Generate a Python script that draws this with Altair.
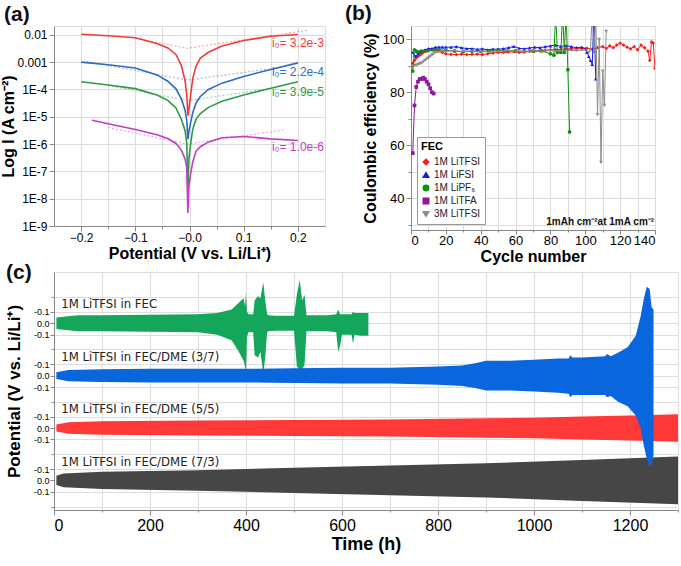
import altair as alt
import pandas as pd

FONT = "Liberation Sans"
NARROW = "Liberation Sans Narrow, DejaVu Sans Condensed, Liberation Sans"

# ---------------- (a) Tafel curves ----------------
a_series = ["1M LiTFSI", "1M LiFSI", "1M LiPF₆", "1M LiTFA"]
a_colors = ["#f03a3c", "#2e6bc6", "#2f9a4a", "#c23ec2"]

a_x = [-0.2, -0.15, -0.1, -0.06, -0.04, -0.025, -0.015, -0.008, -0.005, -0.003,
       -0.001, 0.002, 0.006, 0.012, 0.02, 0.035, 0.06, 0.1, 0.15, 0.2]
a_x_litfa = [-0.18, -0.15, -0.1, -0.06, -0.04, -0.025, -0.015, -0.008, -0.005, -0.003,
             -0.001, 0.002, 0.006, 0.012, 0.02, 0.035, 0.06, 0.1, 0.15, 0.2]
a_i_litfsi = [0.0105, 0.0092, 0.0078, 0.0048, 0.0033, 0.0019, 7.5e-4, 2e-4, 6e-5, 1.1e-5,
              2e-5, 6e-5, 2.5e-4, 7e-4, 1.4e-3, 2.3e-3, 3.9e-3, 6.2e-3, 8.8e-3, 0.0102]
a_i_lifsi = [1.0e-3, 8e-4, 6.1e-4, 3.4e-4, 2e-4, 1.05e-4, 4.5e-5, 1.7e-5, 7e-6, 1.5e-6,
             3e-6, 6e-6, 1.4e-5, 3.2e-5, 5.5e-5, 1e-4, 1.7e-4, 3e-4, 5.4e-4, 9.4e-4]
a_i_lipf6 = [1.9e-4, 1.45e-4, 1.07e-4, 6.2e-5, 4e-5, 2.1e-5, 8e-6, 3e-6, 1e-6, 2e-8,
             3e-7, 1e-6, 3.5e-6, 8e-6, 1.3e-5, 2.2e-5, 3.7e-5, 6.3e-5, 1.1e-4, 1.9e-4]
a_i_litfa = [7.4e-6, 5.5e-6, 3.4e-6, 2.2e-6, 1.6e-6, 1.05e-6, 6e-7, 2.8e-7, 1.3e-7, 3e-9,
             3e-8, 8e-8, 2.2e-7, 5.5e-7, 8e-7, 1.2e-6, 1.7e-6, 1.9e-6, 1.55e-6, 1.35e-6]

# Tafel fit (dotted) lines: left end, intersection, right end
a_fit_x_litfsi = [-0.1, -0.003, 0.22]
a_fit_i_litfsi = [0.0075, 0.0032, 0.015]
a_fit_x_lifsi = [-0.19, -0.003, 0.17]
a_fit_i_lifsi = [1.05e-3, 2.2e-4, 6.5e-4]
a_fit_x_lipf6 = [-0.15, -0.003, 0.16]
a_fit_i_lipf6 = [1.4e-4, 3.9e-5, 1.15e-4]
a_fit_x_litfa = [-0.15, -0.003, 0.175]
a_fit_i_litfa = [4e-6, 1.0e-6, 3.3e-6]

a_i0_labels = ["i₀= 3.2e-3", "i₀= 2.2e-4", "i₀= 3.9e-5", "i₀= 1.0e-6"]
a_i0_x = [0.152, 0.152, 0.152, 0.152]
a_i0_y = [5.1e-3, 4.4e-4, 7.9e-5, 7.9e-7]

# ---------------- (b) Coulombic efficiency ----------------
b_series = ["1M LiTFSI", "1M LiFSI", "1M LiPF₆", "1M LiTFA", "3M LiTFSI"]
b_colors = ["#ff1a1a", "#1a1aff", "#109010", "#8e1a96", "#8c8c8c"]
b_shapes = ["diamond", "triangle-up", "circle", "square", "triangle-down"]

b_cyc_litfsi = [1, 2, 3, 4, 5, 6, 7, 8, 9, 10, 12, 14, 16, 18, 20,
                23, 26, 29, 32, 35, 38, 41, 44, 47, 50, 53, 56, 59, 62, 65, 68, 71, 74, 77, 80,
                83, 86, 89, 92, 95, 98, 101, 104, 107, 110,
                112, 114, 116, 118, 120, 122, 124, 126, 128, 130, 132, 134, 136,
                137, 138, 139, 140]
b_ce_litfsi = [91, 92, 93, 93.5, 94, 94.5, 95, 95.5, 95.5, 96, 96, 96, 95.5, 95, 94.5,
               94.3, 94.2, 94.4, 94.2, 94.3, 94.4, 94.2, 94.5, 94.8, 95,
               95, 95.2, 95.3, 95, 95.2, 95.4, 95.5, 95.6, 95.8, 96,
               96, 96.2, 96.4, 96.3, 96.5, 96.4, 96.6, 96.2, 96.8, 97.2,
               96.5, 97.5, 96.8, 97.8, 98.5, 97.8, 97, 96.4, 97.2, 96, 97.8, 96.8, 95.5,
               92, 99, 98.5, 89]
b_cyc_lifsi = [1, 2, 3, 4, 5, 6, 8, 10, 12, 14, 16, 18, 20,
               23, 26, 29, 32, 35, 38, 41, 44, 47, 50, 53, 56, 59, 62, 65, 68, 71, 74,
               77, 80, 83, 86, 89, 92, 95, 98,
               100, 101, 102, 103, 104, 105, 106]
b_ce_lifsi = [95, 94, 93.5, 94.5, 95, 95.5, 96, 96.5, 96.5, 97, 97, 97, 97,
              97, 97.2, 96.8, 96.5, 96.5, 96.2, 96.4, 96, 96.3, 96.2,
              96.5, 96.8, 97.3, 96.6, 96.4, 96.7, 97, 96.8, 97.2, 97.5,
              97.8, 97.3, 97.6, 97.2, 96.8, 97,
              96.5, 95, 93.5, 92, 90.5, 110, 85]
b_cyc_lipf6 = [1, 2, 3, 4, 5, 6, 8, 10, 13, 16, 20,
               25, 30, 35, 40, 45, 50, 55, 60, 65, 70, 75, 80,
               82, 83, 84, 86, 87, 88, 89, 90, 91]
b_ce_lipf6 = [88, 96, 95.5, 95, 95.2, 95.5, 95.6, 95.8, 96, 96, 95.8,
              95.5, 95.3, 95.5, 95.4, 95.6, 96, 95.5, 95.6, 95.4, 95.5, 95.6, 94.5,
              94, 110, 95, 95, 110, 95, 110, 88.5, 65]
b_cyc_litfa = [1, 2, 3, 4, 5, 6, 7, 8, 9, 10, 11, 12, 13]
b_ce_litfa = [57, 75, 82, 84, 85, 85, 85.5, 85, 84, 83, 81.5, 80, 79.5]
b_cyc_3m = [1, 2, 3, 4, 5, 6, 7, 8, 9, 10, 11, 12, 13, 14, 15, 17, 20,
            25, 30, 35, 40, 45, 50, 55, 60, 65, 70, 75, 80, 85, 90, 95, 100,
            102, 103, 104, 105, 106, 107, 108, 109, 110, 111, 112]
b_ce_3m = [89.5, 90, 90.2, 90.5, 90.8, 91, 91.5, 92, 92.5, 93, 93.5, 94, 94.5, 95, 95.2,
           95.5, 95.5,
           95.6, 95.4, 95.5, 95.3, 95.5, 95.4, 95.6, 95.5, 95.4, 95.6, 95.5, 95.7, 95.6,
           95.8, 95.7, 96,
           95, 96, 110, 95, 110, 71.5, 100, 53.5, 88, 75, 103]

b_note = ["1mAh cm⁻²at 1mA cm⁻²"]
b_note_x = [139.5]
b_note_y = [30]

# ---------------- (c) Voltage profiles (envelopes) ----------------
c_series = ["1M LiTFSI in FEC", "1M LiTFSI in FEC/DME (3/7)",
            "1M LiTFSI in FEC/DME (5/5)", "1M LiTFSI in FEC/DME (7/3)"]
c_colors = ["#14a65b", "#0a66dd", "#ff3838", "#464646"]
OFFSET = 0.46  # vertical spacing of stacked traces (V)

c_t_fec = [5, 50, 100, 200, 300, 340, 370, 385, 395, 398, 400, 402, 405, 415, 418,
           425, 430, 436, 440, 444, 447, 460, 480, 500, 506, 512, 517, 522, 526, 540,
           570, 588, 592, 596, 600, 610, 620, 623, 626, 640, 655]
c_hi_fec = [0.05, 0.07, 0.07, 0.075, 0.08, 0.09, 0.12, 0.18, 0.22, 0.15, 0.27, 0.1, 0.08,
            0.08, 0.2, 0.24, 0.22, 0.36, 0.2, 0.08, 0.07, 0.065, 0.065, 0.065, 0.25,
            0.38, 0.2, 0.25, 0.07, 0.07, 0.07, 0.08, 0.12, 0.08, 0.08, 0.08, 0.08, 0.1,
            0.09, 0.09, 0.09]
c_lo_fec = [-0.05, -0.07, -0.07, -0.075, -0.08, -0.1, -0.15, -0.25, -0.33, -0.38, -0.42,
            -0.12, -0.08, -0.08, -0.28, -0.3, -0.25, -0.44, -0.3, -0.08, -0.07, -0.065,
            -0.065, -0.065, -0.38, -0.41, -0.41, -0.36, -0.07, -0.07, -0.07, -0.08, -0.25,
            -0.2, -0.1, -0.1, -0.1, -0.18, -0.1, -0.11, -0.11]
c_t_37 = [5, 30, 100, 200, 300, 400, 500, 600, 700, 800, 850, 880, 900, 950, 1000,
          1050, 1072, 1076, 1080, 1100, 1148, 1152, 1160, 1175, 1195, 1212, 1222, 1229,
          1235, 1241, 1245, 1249]
c_hi_37 = [0.03, 0.05, 0.055, 0.06, 0.06, 0.06, 0.065, 0.07, 0.07, 0.08, 0.09, 0.11,
           0.13, 0.13, 0.14, 0.15, 0.15, 0.18, 0.16, 0.16, 0.17, 0.19, 0.17, 0.2, 0.25,
           0.35, 0.52, 0.68, 0.78, 0.76, 0.6, 0.58]
c_lo_37 = [-0.03, -0.05, -0.055, -0.06, -0.06, -0.06, -0.065, -0.07, -0.07, -0.08, -0.09,
           -0.11, -0.13, -0.13, -0.14, -0.15, -0.16, -0.19, -0.17, -0.17, -0.17, -0.19,
           -0.18, -0.23, -0.27, -0.35, -0.46, -0.62, -0.73, -0.8, -0.77, -0.7]
c_t_55 = [5, 30, 100, 300, 500, 700, 900, 1000, 1100, 1200, 1300]
c_hi_55 = [0.03, 0.05, 0.06, 0.065, 0.07, 0.075, 0.085, 0.09, 0.1, 0.11, 0.12]
c_lo_55 = [-0.03, -0.05, -0.06, -0.065, -0.07, -0.075, -0.085, -0.09, -0.1, -0.11, -0.12]
c_t_73 = [5, 20, 100, 300, 500, 700, 900, 1100, 1300]
c_hi_73 = [0.04, 0.06, 0.075, 0.09, 0.11, 0.13, 0.15, 0.18, 0.21]
c_lo_73 = [-0.04, -0.06, -0.075, -0.09, -0.11, -0.13, -0.15, -0.18, -0.21]
c_label_t = [15, 15, 15, 15]

panel_labels = ["(a)", "(b)", "(c)"]


def panel_tag(text, dx, dy):
    """Panel letter drawn just outside the top-left corner of a plot area."""
    return alt.Chart(pd.DataFrame({"lab": [text]})).mark_text(
        align="left", baseline="middle", fontSize=21, fontWeight="bold", font=FONT,
        color="#111").encode(x=alt.value(dx), y=alt.value(dy), text="lab:N")


# =============== build panel (a) ===============
rows = []
for name, xs, ys in zip(a_series, [a_x, a_x, a_x, a_x_litfa],
                        [a_i_litfsi, a_i_lifsi, a_i_lipf6, a_i_litfa]):
    for i, (x, y) in enumerate(zip(xs, ys)):
        rows.append({"sa": name, "x": x, "y": y, "k": i})
df_a = pd.DataFrame(rows)
rows = []
for name, xs, ys in zip(a_series, [a_fit_x_litfsi, a_fit_x_lifsi, a_fit_x_lipf6, a_fit_x_litfa],
                        [a_fit_i_litfsi, a_fit_i_lifsi, a_fit_i_lipf6, a_fit_i_litfa]):
    for i, (x, y) in enumerate(zip(xs, ys)):
        rows.append({"sa": name, "x": x, "y": y, "k": i})
df_afit = pd.DataFrame(rows)
df_ai0 = pd.DataFrame({"sa": a_series, "x": a_i0_x, "y": a_i0_y, "label": a_i0_labels})

minor_a = "abs(datum.value*10 - round(datum.value*10)) > 0.01"
xa = alt.X("x:Q", scale=alt.Scale(domain=[-0.25, 0.25], nice=False, zero=False),
           axis=alt.Axis(title="Potential (V vs. Li/Li⁺)",
                         values=[-0.2, -0.15, -0.1, -0.05, 0, 0.05, 0.1, 0.15, 0.2],
                         labelExpr=f"{minor_a} ? '' : (datum.value == 0 ? '−0.0' : format(datum.value, '.1f'))",
                         tickSize={"condition": {"test": minor_a, "value": 3}, "value": 5},
                         labelFontSize=12, labelPadding=1, titleFontSize=16, titlePadding=2))
ya = alt.Y("y:Q", scale=alt.Scale(type="log", domain=[1e-9, 0.021], nice=False),
           axis=alt.Axis(title="Log I (A cm⁻²)",
                         values=[1e-9, 1e-8, 1e-7, 1e-6, 1e-5, 1e-4, 1e-3, 1e-2],
                         labelExpr="datum.value > 0.005 ? '0.01' : (datum.value > 0.0005 ? '0.001' : '1E-' + round(-log(datum.value)/LN10))",
                         labelFontSize=12, titleFontSize=16, titlePadding=0))
a_cscale = alt.Scale(domain=a_series, range=a_colors)
leg_a = alt.Legend(title="FEC", orient="bottom-left", offset=4, titleFontSize=12,
                   titleFontWeight="bold", titleFont=FONT, labelFont=FONT, labelFontSize=11,
                   labelColor="#222", symbolType="stroke", symbolStrokeWidth=2,
                   symbolSize=800, strokeColor="#999", fillColor="white", padding=5,
                   rowPadding=3, labelOffset=3)

a_fit = alt.Chart(df_afit).mark_line(strokeDash=[2, 2], strokeWidth=1.2, opacity=0.45).encode(
    x=xa, y=ya, order="k:Q", color=alt.Color("sa:N", scale=a_cscale, sort=a_series, legend=None))
a_line = alt.Chart(df_a).mark_line(strokeWidth=1.6).encode(
    x=xa, y=ya, order="k:Q", color=alt.Color("sa:N", scale=a_cscale, sort=a_series, legend=leg_a))
a_txt = alt.Chart(df_ai0).mark_text(align="left", baseline="middle", fontSize=12, font=FONT).encode(
    x=xa, y=ya, text="label:N", color=alt.Color("sa:N", scale=a_cscale, sort=a_series, legend=None))
chart_a = alt.layer(a_fit, a_line, a_txt, panel_tag(panel_labels[0], -50, -11)).properties(
    width=271, height=200)

# =============== build panel (b) ===============
rows = []
for name, cs, vs in zip(b_series, [b_cyc_litfsi, b_cyc_lifsi, b_cyc_lipf6, b_cyc_litfa, b_cyc_3m],
                        [b_ce_litfsi, b_ce_lifsi, b_ce_lipf6, b_ce_litfa, b_ce_3m]):
    for c, v in zip(cs, vs):
        rows.append({"sb": name, "cycle": c, "ce": v})
df_b = pd.DataFrame(rows)
df_bnote = pd.DataFrame({"cycle": b_note_x, "ce": b_note_y, "t": b_note})

xb = alt.X("cycle:Q", scale=alt.Scale(domain=[0, 140], nice=False, zero=False),
           axis=alt.Axis(title="Cycle number", values=list(range(0, 141, 10)),
                         labelExpr="datum.value % 20 == 0 ? format(datum.value, 'd') : ''",
                         tickSize={"condition": {"test": "datum.value % 20 != 0", "value": 2}, "value": 4},
                         labelFontSize=13, labelPadding=0, titleFontSize=16, titlePadding=1))
yb = alt.Y("ce:Q", scale=alt.Scale(domain=[28, 105], nice=False, zero=False),
           axis=alt.Axis(title="Coulombic efficiency (%)", values=list(range(30, 101, 10)),
                         labelExpr="datum.value % 20 == 0 ? format(datum.value, 'd') : ''",
                         tickSize={"condition": {"test": "datum.value % 20 != 0", "value": 3}, "value": 5},
                         labelFontSize=13, titleFontSize=16, titlePadding=4))
b_cscale = alt.Scale(domain=b_series, range=b_colors)
b_sscale = alt.Scale(domain=b_series, range=b_shapes)
leg_b = alt.Legend(title="FEC", orient="bottom-left", offset=6, titleFontSize=11,
                   titleFontWeight="bold", titleFont=FONT, labelFont=FONT, labelFontSize=10,
                   labelColor="#222", symbolSize=30, strokeColor="#999", fillColor="white",
                   padding=4, rowPadding=1, labelOffset=3)
b_pts = alt.Chart(df_b).mark_point(filled=True, size=14, opacity=1, clip=True).encode(
    x=xb, y=yb,
    color=alt.Color("sb:N", scale=b_cscale, sort=b_series, legend=leg_b),
    shape=alt.Shape("sb:N", scale=b_sscale, sort=b_series, legend=leg_b))
b_line = alt.Chart(df_b).mark_line(strokeWidth=1, clip=True).encode(
    x=xb, y=yb, color=alt.Color("sb:N", scale=b_cscale, sort=b_series, legend=leg_b))
b_txt = alt.Chart(df_bnote).mark_text(align="right", baseline="alphabetic", fontSize=10,
                                      fontWeight="bold", font=FONT, color="#111").encode(
    x=xb, y=yb, text="t:N")
chart_b = alt.layer(b_pts, b_line, b_txt, panel_tag(panel_labels[1], -66, -12)).properties(
    width=244, height=204)

# =============== build panel (c) ===============
c_env = [(c_t_fec, c_hi_fec, c_lo_fec), (c_t_37, c_hi_37, c_lo_37),
         (c_t_55, c_hi_55, c_lo_55), (c_t_73, c_hi_73, c_lo_73)]
n_c = len(c_series)
c_off = [(n_c - 1 - i) * OFFSET for i in range(n_c)]

minor_c = f"abs(datum.value - round(datum.value/{OFFSET})*{OFFSET}) > 0.15"
zero_c = f"abs(datum.value - round(datum.value/{OFFSET})*{OFFSET}) < 0.01"
yvals = []
for o in c_off:
    yvals += [round(o - 0.1, 3), round(o, 3), round(o + 0.1, 3)]
yvals += [round(o + OFFSET / 2, 3) for o in c_off] + [-OFFSET / 2]
yvals = sorted(yvals)

xc = alt.X("t:Q", scale=alt.Scale(domain=[0, 1300], nice=False, zero=False),
           axis=alt.Axis(title="Time (h)", values=list(range(0, 1301, 100)),
                         labelExpr="datum.value % 200 == 0 && datum.value < 1300 ? format(datum.value, 'd') : ''",
                         tickSize={"condition": {"test": "datum.value % 200 != 0", "value": 2}, "value": 5},
                         labelFontSize=16, labelPadding=2, titleFontSize=18, titlePadding=2))
yc = alt.Y("hi:Q", stack=None, scale=alt.Scale(domain=[-0.26, 1.83], nice=False, zero=False),
           axis=alt.Axis(title="Potential (V vs. Li/Li⁺)", values=yvals,
                         labelExpr=f"{minor_c} ? '' : ({zero_c} ? '0.0' : '-0.1')",
                         tickSize={"condition": {"test": minor_c, "value": 3}, "value": 4},
                         labelFontSize=9, labelPadding=1,
                         titleFontSize=17, titlePadding=10))

c_layers = []
for idx in [3, 2, 0, 1]:
    ts, hi, lo = c_env[idx]
    dfc = pd.DataFrame({"t": ts, "hi": [c_off[idx] + v for v in hi],
                        "lo": [c_off[idx] + v for v in lo]})
    c_layers.append(alt.Chart(dfc).mark_area(color=c_colors[idx], opacity=1, clip=True,
                                             interpolate="linear").encode(
        x=xc, y=yc, y2="lo:Q"))
df_clab = pd.DataFrame({"t": c_label_t, "hi": [o + 0.165 for o in c_off], "name": c_series})
c_layers.append(alt.Chart(df_clab).mark_text(align="left", baseline="middle", fontSize=13,
                                             font=NARROW, color="#222").encode(
    x=xc, y=yc, text="name:N"))
c_layers.append(panel_tag(panel_labels[2], -48, 1))
chart_c = alt.layer(*c_layers).properties(width=624, height=238)

top = alt.hconcat(chart_a, chart_b, spacing=86, bounds="flush").resolve_scale(
    color="independent", shape="independent")
chart = alt.vconcat(top, chart_c, spacing=-4).resolve_scale(
    color="independent", shape="independent").properties(
    padding={"left": 0, "top": 2, "right": 0, "bottom": 0}
).configure_view(stroke="#333", strokeWidth=1.3).configure_axis(
    labelFont=FONT, titleFont=FONT, titleFontWeight="bold", labelColor="#222",
    titleColor="#111", tickColor="#333", domainColor="#333", grid=False, labelPadding=2
).configure(background="white")

chart.save("out.html", embed_options={"renderer": "svg", "actions": False})
